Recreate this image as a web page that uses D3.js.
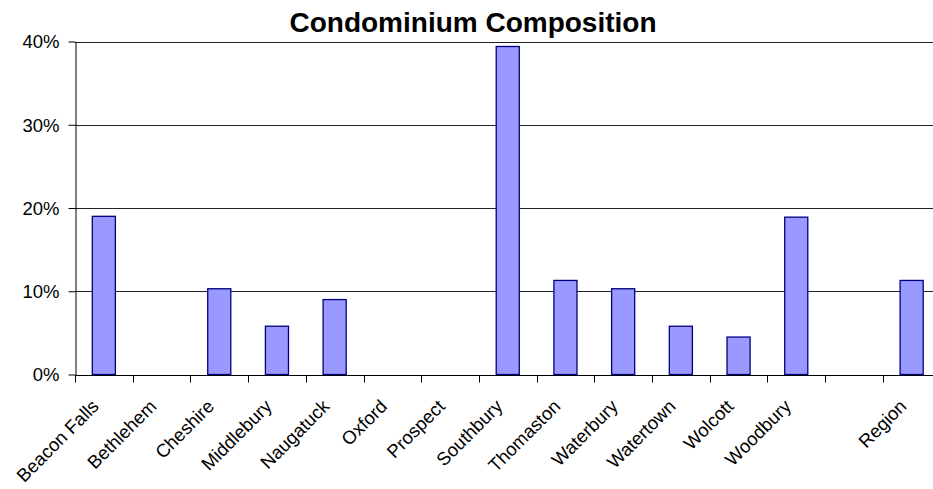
<!DOCTYPE html>
<html><head><meta charset="utf-8">
<script src="https://cdn.jsdelivr.net/npm/d3@7"></script>
<style>body{margin:0;background:#fff}svg{display:block}</style>
</head><body>
<script>
const categories = ["Beacon Falls","Bethlehem","Cheshire","Middlebury","Naugatuck","Oxford","Prospect","Southbury","Thomaston","Waterbury","Watertown","Wolcott","Woodbury","","Region"];
const values = [0.190,0,0.103,0.058,0.090,0,0,0.394,0.113,0.103,0.058,0.045,0.189,null,0.113];
const yTicks = [0,0.1,0.2,0.3,0.4];
const title = "Condominium Composition";

const W=933,H=489;
const m={l:75,t:41.5,r:-7.5,b:114.5};
const svg=d3.select("body").append("svg").attr("width",W).attr("height",H);
const x=d3.scaleBand().domain(d3.range(categories.length)).range([m.l,W-m.r]).paddingInner(0.6).paddingOuter(0.3);
const xb=d3.scaleBand().domain(d3.range(categories.length)).range([m.l,W-m.r]);
const y=d3.scaleLinear().domain([0,0.4]).range([H-m.b,m.t]);
const FF="Liberation Sans, Arial, sans-serif";

svg.append("text").attr("x",473).attr("y",31.5).attr("text-anchor","middle")
  .attr("font-family",FF).attr("font-weight","bold").attr("font-size",28)
  .text(title);

// gridlines
svg.append("g").selectAll("line").data(yTicks.slice(1)).join("line")
  .attr("x1",m.l).attr("x2",W).attr("y1",d=>Math.round(y(d))+0.5).attr("y2",d=>Math.round(y(d))+0.5)
  .attr("stroke","#222").attr("stroke-width",1);

// bars
svg.append("g").selectAll("rect").data(values.map((v,i)=>({v,i})).filter(d=>d.v)).join("rect")
  .attr("x",d=>x(d.i)).attr("width",x.bandwidth())
  .attr("y",d=>y(d.v)).attr("height",d=>y(0)-y(d.v))
  .attr("fill","#9999FF").attr("stroke","#000080").attr("stroke-width",1.3);

// y axis
const ya=svg.append("g").attr("transform",`translate(${m.l+0.5},0)`)
  .call(d3.axisLeft(y).tickValues(yTicks).tickFormat(d3.format(".0%")).tickSize(7).tickSizeOuter(0));
ya.select(".domain").attr("stroke","#000");
ya.selectAll(".tick line").attr("stroke","#000");
ya.selectAll("text").attr("font-family",FF).attr("font-size",18.5).attr("fill","#000").attr("x",-16).attr("dy","0.35em");

// x axis
const xa=svg.append("g").attr("transform",`translate(0,${Math.round(y(0))+0.5})`);
xa.append("line").attr("x1",m.l).attr("x2",W).attr("stroke","#000");
xa.selectAll(".tk").data(d3.range(categories.length+1)).join("line").attr("class","tk")
  .attr("x1",i=>Math.round(m.l+i*xb.step())+0.5).attr("x2",i=>Math.round(m.l+i*xb.step())+0.5)
  .attr("y1",0).attr("y2",7).attr("stroke","#000");
xa.selectAll(".lb").data(categories.map((c,i)=>({c,i}))).join("text").attr("class","lb")
  .attr("text-anchor","end")
  .attr("transform",d=>`translate(${xb(d.i)+xb.bandwidth()/2-4},${32}) rotate(-45)`)
  .attr("font-family",FF).attr("font-size",18.5).attr("fill","#000")
  .text(d=>d.c);
</script>
</body></html>
